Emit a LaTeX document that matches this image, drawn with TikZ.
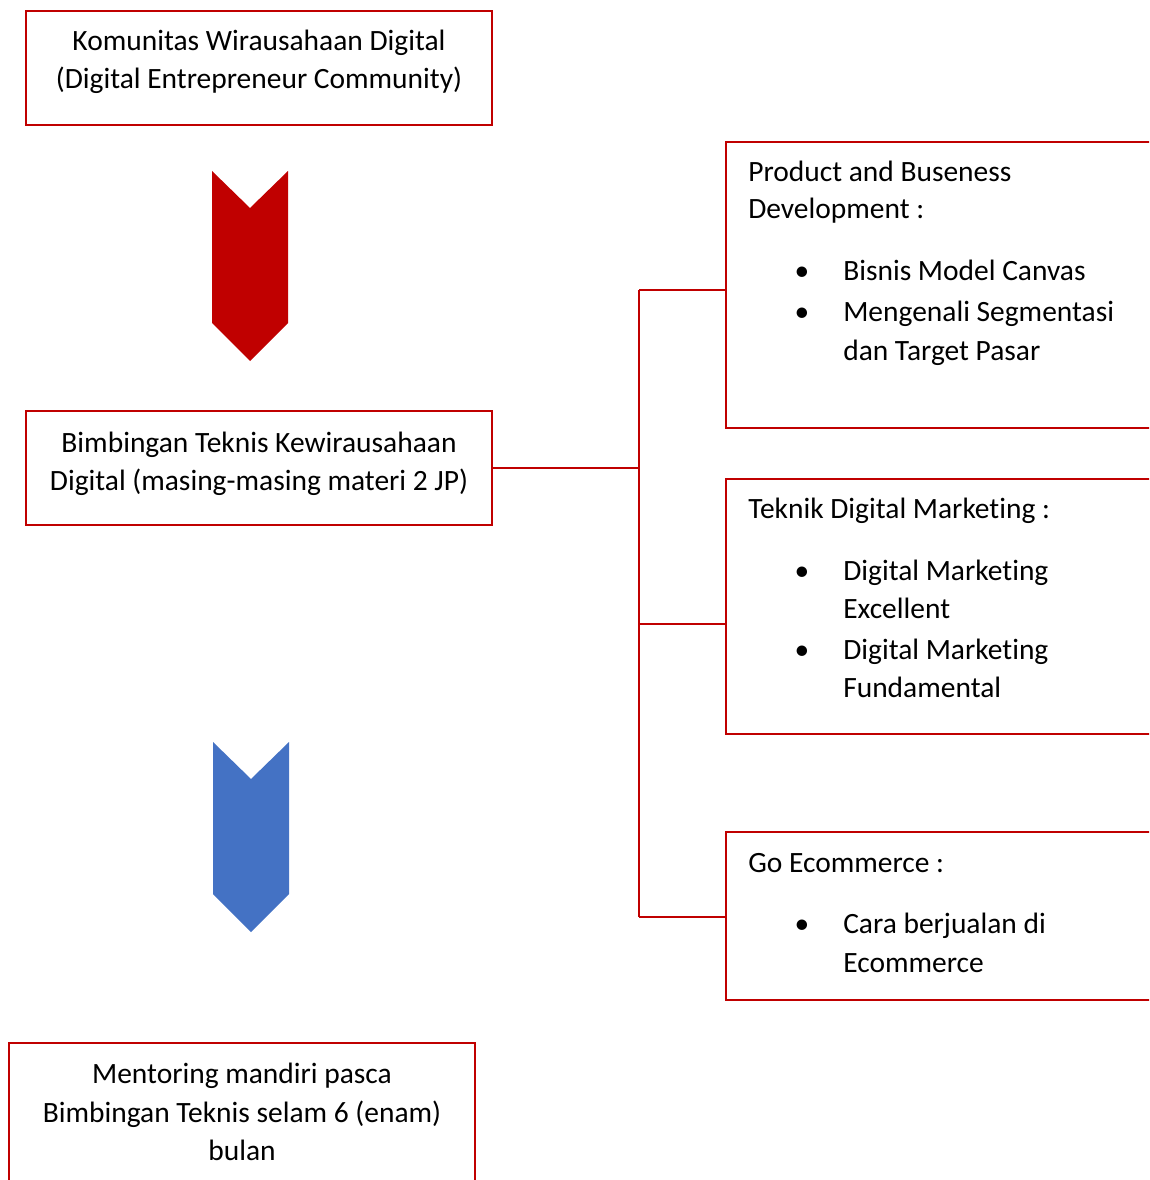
\documentclass[tikz,border=0pt]{standalone}
\usepackage{fontspec}
\setmainfont{Carlito}[Ligatures={NoCommon}]
\usepackage{xcolor}
\usetikzlibrary{fit}
\definecolor{wred}{HTML}{C00000}
\definecolor{wblue}{HTML}{4472C4}

\begin{document}
\begin{tikzpicture}[x=0.75pt,y=-0.75pt,
                    frame/.style={draw=wred, line width=1.7pt, inner sep=0pt},
                    conn/.style={draw=wred, line width=1.7pt},
                    txt/.style={font=\fontsize{22.1}{28.9}\selectfont, inner sep=0pt, anchor=base},
                    item/.style={txt, anchor=base west}]

  \useasboundingbox (0,0) rectangle (1149,1180);
  \clip (0,0) rectangle (1149,1180);

  \node[frame, fit={(26,11) (492,125)}] (kwd) {};
  \node[frame, fit={(26,411) (492,525)}] (bim) {};
  \node[frame, fit={(9,1043) (475,1200)}] (men) {};
  \node[frame, fit={(726,142) (1170,428)}] (pbd) {};
  \node[frame, fit={(726,479) (1170,734)}] (tdm) {};
  \node[frame, fit={(726,832) (1170,1000)}] (goe) {};

  \fill[wred] (212,171) -- (250,208) -- (288,171) -- (288,323)
        -- (250,361) -- (212,323) -- cycle;
  \fill[wblue] (213,742) -- (251,779) -- (289,742) -- (289,894)
        -- (251,932) -- (213,894) -- cycle;

  \foreach \n/\y/\t in {1/51/{Komunitas Wirausahaan Digital},
                        2/89/{(Digital Entrepreneur Community)}}
    \node[txt] (kwd\n) at (259,\y) {\t};
  \foreach \n/\y/\t in {1/452/{Bimbingan Teknis Kewirausahaan},
                        2/490/{Digital (masing-masing materi 2 JP)}}
    \node[txt] (bim\n) at (259,\y) {\t};
  \foreach \n/\y/\t in {1/1083/{Mentoring mandiri pasca},
                        2/1122/{Bimbingan Teknis selam 6 (enam)},
                        3/1160/{bulan}}
    \node[txt] (men\n) at (242,\y) {\t};

  \node[item] (pbdh1) at (748,182) {Product and Buseness};
  \node[item] (pbdh2) at (748,219) {Development :};
  \node[txt] (pbdb1) at (802,281) {\textbullet};
  \node[item] (pbdi1) at (843,281) {Bisnis Model Canvas};
  \node[txt] (pbdb2) at (802,321) {\textbullet};
  \node[item] (pbdi2) at (843,321) {Mengenali Segmentasi};
  \node[item] (pbdi3) at (843,360) {dan Target Pasar};

  \node[item] (tdmh1) at (748,518) {Teknik Digital Marketing :};
  \node[txt] (tdmb1) at (802,580) {\textbullet};
  \node[item] (tdmi1) at (843,580) {Digital Marketing};
  \node[item] (tdmi2) at (843,618) {Excellent};
  \node[txt] (tdmb2) at (802,659) {\textbullet};
  \node[item] (tdmi3) at (843,659) {Digital Marketing};
  \node[item] (tdmi4) at (843,697) {Fundamental};

  \node[item] (goeh1) at (748,872) {Go Ecommerce :};
  \node[txt] (goeb1) at (802,933) {\textbullet};
  \node[item] (goei1) at (843,933) {Cara berjualan di};
  \node[item] (goei2) at (843,972) {Ecommerce};

  \coordinate (jt) at (639,290);
  \coordinate (jm) at (639,624);
  \coordinate (jb) at (639,917);
  \draw[conn] (jt) -- (jb);
  \draw[conn] (bim.east) -- (bim.east -| jt);
  \draw[conn] (jt) -- (jt -| pbd.west);
  \draw[conn] (jm) -- (jm -| tdm.west);
  \draw[conn] (jb) -- (jb -| goe.west);
\end{tikzpicture}
\end{document}
